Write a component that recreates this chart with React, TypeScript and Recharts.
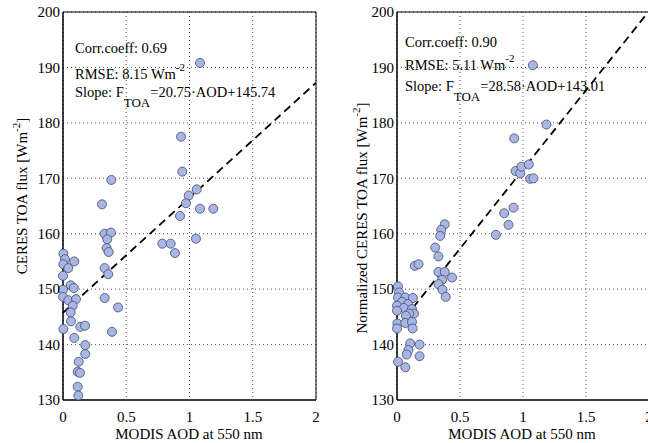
import React from 'react';
import { ScatterChart, Scatter, XAxis, YAxis, CartesianGrid, ReferenceLine, ReferenceArea } from 'recharts';

const xTicks = [0, 0.5, 1, 1.5, 2];
const yTicks = [130, 140, 150, 160, 170, 180, 190, 200];

const leftAod = [1.083, 0.933, 0.943, 0.382, 0.308, 1.057, 0.994, 0.972, 1.083, 1.188, 0.925, 0.329, 0.379, 0.35, 0.345, 0.361, 0.785, 0.851, 0.885, 1.051, 0.329, 0.358, 0.329, 0.435, 0.387, 0.003, 0.016, 0.003, 0.042, 0.089, 0.0, 0.061, 0.085, 0.0, 0.0, 0.042, 0.103, 0.077, 0.061, 0.063, 0.003, 0.137, 0.174, 0.089, 0.176, 0.176, 0.124, 0.116, 0.134, 0.116, 0.121];
const leftFlux = [190.8, 177.5, 171.2, 169.7, 165.3, 168.0, 166.9, 165.5, 164.5, 164.5, 163.2, 160.0, 160.2, 159.0, 157.4, 156.7, 158.2, 158.2, 156.5, 159.1, 153.8, 152.7, 148.4, 146.7, 142.3, 156.4, 155.4, 154.5, 153.8, 155.0, 152.4, 150.7, 150.2, 149.9, 148.6, 148.0, 148.2, 147.0, 145.8, 144.2, 142.8, 143.2, 143.4, 141.2, 139.9, 138.3, 136.9, 135.1, 134.9, 132.4, 130.8];

const rightAod = [1.078, 1.186, 0.93, 0.941, 0.978, 0.988, 1.046, 1.057, 1.083, 0.925, 0.851, 0.885, 0.785, 0.379, 0.351, 0.343, 0.303, 0.329, 0.142, 0.171, 0.329, 0.379, 0.437, 0.358, 0.329, 0.361, 0.387, 0.008, 0.016, 0.008, 0.066, 0.126, 0.04, 0.087, 0.0, 0.055, 0.119, 0.0, 0.134, 0.097, 0.071, 0.003, 0.0, 0.066, 0.119, 0.124, 0.105, 0.09, 0.077, 0.179, 0.179, 0.008, 0.066];
const rightFlux = [190.4, 179.7, 177.2, 171.3, 170.9, 172.1, 172.5, 169.9, 170.0, 164.7, 163.7, 161.6, 159.8, 161.7, 160.7, 159.6, 157.5, 155.9, 154.2, 154.5, 153.1, 153.1, 152.1, 151.7, 150.9, 149.9, 148.6, 150.5, 149.4, 148.5, 148.5, 148.4, 147.7, 147.3, 147.0, 146.6, 146.4, 146.1, 145.6, 145.6, 145.2, 143.8, 142.9, 143.9, 144.1, 142.9, 140.2, 139.0, 138.2, 140.0, 137.9, 136.9, 135.9];

const leftFit = { slope: 20.75, intercept: 145.74 };
const rightFit = { slope: 28.58, intercept: 143.01 };

const FONT = 'Liberation Serif, DejaVu Serif, serif';

const toRows = (xs: number[], ys: number[]) => xs.map((x, i) => ({ x, y: ys[i] }));

interface PanelProps {
  rows: { x: number; y: number }[];
  fit: { slope: number; intercept: number };
  axisWidth: number;
  rightMargin: number;
}

const Panel: React.FC<PanelProps> = ({ rows, fit, axisWidth, rightMargin }) => (
  <ScatterChart width={330} height={443} margin={{ top: 12, right: rightMargin, bottom: 0, left: 0 }}>
    <CartesianGrid stroke="#555" strokeDasharray="1 3" horizontalValues={yTicks} verticalValues={xTicks} />
    <XAxis
      type="number"
      dataKey="x"
      domain={[0, 2]}
      ticks={xTicks}
      height={43}
      tickLine={false}
      tickSize={6}
      tickMargin={5}
      axisLine={{ stroke: '#000' }}
      tick={{ fill: '#000', fontSize: 15, fontFamily: FONT, style: { fontFamily: FONT } }}
    />
    <YAxis
      type="number"
      dataKey="y"
      domain={[130, 200]}
      ticks={yTicks}
      width={axisWidth}
      tickLine={false}
      tickSize={2}
      tickMargin={1}
      axisLine={{ stroke: '#000' }}
      tick={{ fill: '#000', fontSize: 15, fontFamily: FONT, style: { fontFamily: FONT } }}
    />
    <ReferenceArea x1={0} x2={2} y1={130} y2={200} fill="none" fillOpacity={0} stroke="#000" strokeWidth={1} />
    <Scatter data={rows} fill="#a8b6e6" stroke="#454a68" strokeWidth={0.8} isAnimationActive={false} />
    <ReferenceLine
      segment={[
        { x: 0, y: fit.intercept },
        { x: 2, y: fit.intercept + fit.slope * 2 },
      ]}
      stroke="#000"
      strokeWidth={1.8}
      strokeDasharray="8 5"
      ifOverflow="hidden"
    />
  </ScatterChart>
);

const Notes: React.FC<{ x: number; y: number[]; corr: string; rmse: string; eq: string; sub: number }> = ({ x, y, corr, rmse, eq, sub }) => (
  <g style={{ fontFamily: FONT, fontSize: 14.5 }} fill="#000">
    <text x={x} y={y[0]}>{corr}</text>
    <text x={x} y={y[1]}>
      {rmse}
      <tspan fontSize={11} dy={-8}>-2</tspan>
    </text>
    <text x={x} y={y[2]}>
      Slope: F
      <tspan fontSize={13} dy={sub}>TOA</tspan>
      <tspan dy={-sub}>{eq}</tspan>
    </text>
  </g>
);

export default function App() {
  return (
    <div style={{ position: 'absolute', left: 0, top: 0, width: 648, height: 443, overflow: 'hidden', background: '#fff', fontFamily: FONT }}>
      <div style={{ position: 'absolute', left: 0, top: 0 }}>
        <Panel rows={toRows(leftAod, leftFlux)} fit={leftFit} axisWidth={63} rightMargin={14} />
      </div>
      <div style={{ position: 'absolute', left: 330, top: 0 }}>
        <Panel rows={toRows(rightAod, rightFlux)} fit={rightFit} axisWidth={67} rightMargin={11} />
      </div>
      <svg width={648} height={443} style={{ position: 'absolute', left: 0, top: 0, pointerEvents: 'none' }}>
        <Notes x={75} y={[53, 79, 97]} corr="Corr.coeff: 0.69" rmse="RMSE: 8.15 Wm" eq="=20.75·AOD+145.74" sub={10} />
        <Notes x={405} y={[47, 70, 91]} corr="Corr.coeff: 0.90" rmse="RMSE: 5.11 Wm" eq="=28.58·AOD+143.01" sub={10} />
        <g style={{ fontFamily: FONT, fontSize: 15 }} fill="#000" textAnchor="middle">
          <text x={189} y={439}>MODIS AOD at 550 nm</text>
          <text x={522} y={439}>MODIS AOD at 550 nm</text>
          <text transform="translate(27,196) rotate(-90)">
            CERES TOA flux [Wm<tspan fontSize={11} dy={-7}>-2</tspan><tspan dy={7}>]</tspan>
          </text>
          <text transform="translate(367,218) rotate(-90)">
            Normalized CERES TOA flux [Wm<tspan fontSize={11} dy={-7}>-2</tspan><tspan dy={7}>]</tspan>
          </text>
        </g>
      </svg>
    </div>
  );
}
